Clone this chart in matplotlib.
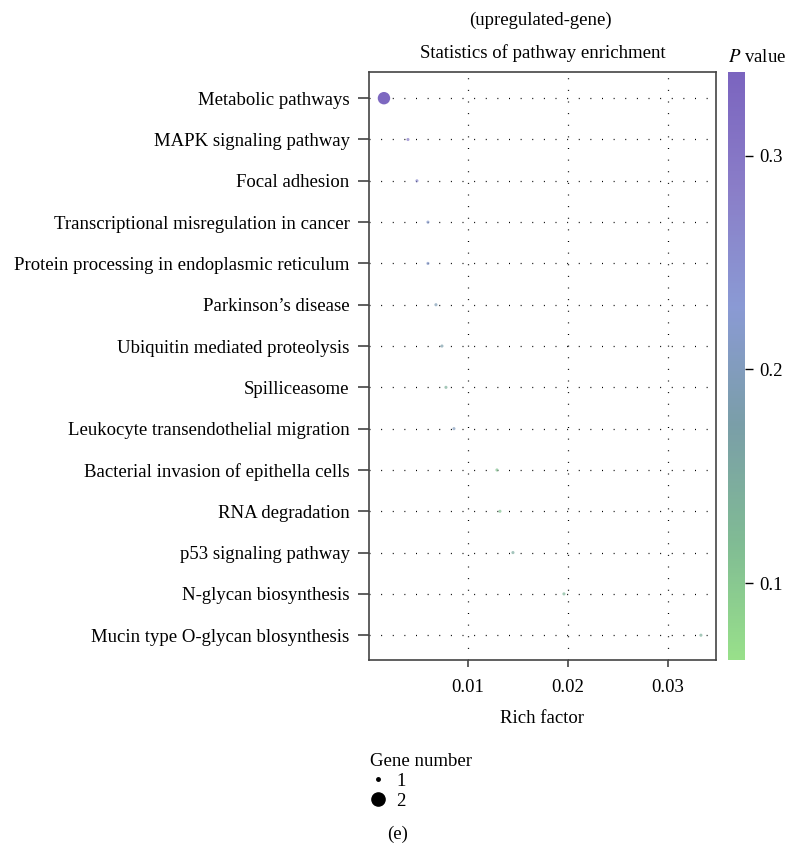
import numpy as np
import matplotlib
matplotlib.use('Agg')
import matplotlib.pyplot as plt
from matplotlib.colors import LinearSegmentedColormap, Normalize
from matplotlib.lines import Line2D

plt.rcParams['font.family'] = ['Liberation Serif', 'DejaVu Serif']
plt.rcParams['mathtext.fontset'] = 'stix'

# data
pathways = ['Metabolic pathways', 'MAPK signaling pathway', 'Focal adhesion',
            'Transcriptional misregulation in cancer',
            'Protein processing in endoplasmic reticulum', "Parkinson\u2019s disease",
            'Ubiquitin mediated proteolysis', 'Spilliceasome',
            'Leukocyte transendothelial migration',
            'Bacterial invasion of epithella cells', 'RNA degradation',
            'p53 signaling pathway', 'N-glycan biosynthesis',
            'Mucin type O-glycan blosynthesis']
rich_factor = [0.0016, 0.0040, 0.0049, 0.0060, 0.0060, 0.0068, 0.0074,
               0.0078, 0.0086, 0.0129, 0.0132, 0.0145, 0.0196, 0.0333]
gene_number = [2, 1, 1, 1, 1, 1, 1, 1, 1, 1, 1, 1, 1, 1]
p_value = [0.33, 0.29, 0.26, 0.22, 0.22, 0.19, 0.18,
           0.14, 0.20, 0.11, 0.11, 0.15, 0.13, 0.14]

cmap = LinearSegmentedColormap.from_list(
    'pv', ['#98e08a', '#80bb94', '#7a9ea8', '#8a9ad4', '#8a7ec8', '#7b64bf'])
norm = Normalize(vmin=0.064, vmax=0.339)

fs = 13.5
fig = plt.figure(figsize=(7.85, 8.47), dpi=100)
ax = fig.add_axes([0.470, 0.2208, 0.442, 0.694])
cax = fig.add_axes([0.9274, 0.2208, 0.0217, 0.694])

y = np.arange(len(pathways))
sizes = [5 if g == 1 else 80 for g in gene_number]
ax.scatter(rich_factor, y, s=sizes, c=p_value, cmap=cmap, norm=norm,
           linewidths=0, alpha=[0.7 if g == 1 else 1 for g in gene_number], zorder=3)

ax.set_ylim(len(pathways) - 0.4, -0.63)
ax.set_xlim(0.0001, 0.0348)
ax.set_yticks(y)
ax.set_yticklabels(pathways, fontsize=fs)
ax.set_xticks([0.01, 0.02, 0.03])
ax.set_xticklabels(['0.01', '0.02', '0.03'], fontsize=fs)
ax.grid(True, color='black', linestyle=(0, (0.8, 8.5)), linewidth=0.9)
ax.set_axisbelow(True)
ax.tick_params(axis='y', length=8, width=1.2, color='#444444', pad=6)
ax.tick_params(axis='x', length=5, width=1.2, color='#444444', pad=9)
for s in ax.spines.values():
    s.set_color('#444444')
    s.set_linewidth(1.2)
ax.set_xlabel('Rich factor', fontsize=fs, labelpad=10)
ax.set_title('Statistics of pathway enrichment', fontsize=fs, pad=10)
fig.text(0.689, 0.976, '(upregulated-gene)', fontsize=fs, ha='center', va='center')

cb = fig.colorbar(plt.cm.ScalarMappable(norm=norm, cmap=cmap), cax=cax)
cb.outline.set_visible(False)
cb.set_ticks([0.1, 0.2, 0.3])
cb.set_ticklabels(['0.1', '0.2', '0.3'])
cb.ax.tick_params(labelsize=fs, length=6, width=1, pad=4)
fig.text(0.9274, 0.932, '$P$ value', fontsize=fs, ha='left', va='center')

# gene number legend
handles = [Line2D([], [], marker='o', linestyle='', color='black', markersize=2.5),
           Line2D([], [], marker='o', linestyle='', color='black', markersize=9.5)]
leg = fig.legend(handles, ['1', '2'], title='Gene number', loc='upper left',
                 bbox_to_anchor=(0.462, 0.12), frameon=False, fontsize=fs,
                 title_fontsize=fs, handlelength=0.8, handletextpad=0.6,
                 labelspacing=0.15, borderaxespad=0)
leg._legend_box.align = 'left'

fig.text(0.507, 0.0145, '(e)', fontsize=fs, ha='center', va='center')

fig.savefig('out.png', dpi=100)
